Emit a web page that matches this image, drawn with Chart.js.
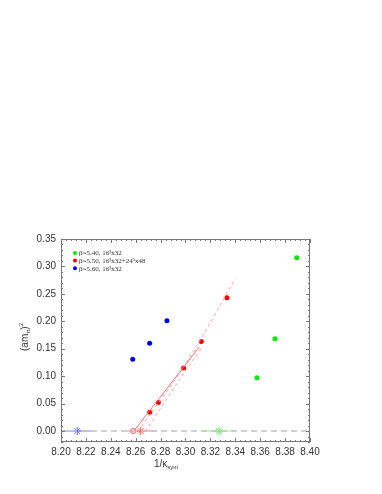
<!DOCTYPE html>
<html>
<head>
<meta charset="utf-8">
<script src="https://cdn.jsdelivr.net/npm/chart.js@4"></script>
<style>
  html, body { margin: 0; padding: 0; background: #fff; }
  #wrap { width: 382px; height: 494px; }
</style>
</head>
<body>
<div id="wrap"><canvas id="myChart" width="382" height="494"></canvas></div>
<script>
// data
const legendLabels = ['β=5.40, 16³x32', 'β=5.50, 16³x32+24³x48', 'β=5.60, 16³x32']
const greenX = [8.3574, 8.3719, 8.3893]
const greenY = [0.097, 0.168, 0.316]
const redX = [8.2712, 8.2782, 8.2985, 8.3127, 8.3333]
const redY = [0.034, 0.052, 0.115, 0.163, 0.243]
const blueX = [8.2576, 8.2712, 8.2851]
const blueY = [0.131, 0.160, 0.201]

// extrapolated zero points and their errors
const zeroBlue = 8.213, zeroBlueErr = [8.201, 8.225]
const zeroRedCircle = 8.258
const zeroRed = 8.264, zeroRedErr = [8.253, 8.277]
const zeroGreen = 8.327, zeroGreenErr = [8.314, 8.340]

// fit lines for beta=5.50
const fitSolidX = [8.2585, 8.311]
const fitSolidY = [0, 0.153]
const fitDashAX = [8.262, 8.300, 8.340]
const fitDashAY = [0, 0.122, 0.277]
const fitDashBX = [8.268, 8.300, 8.3125]
const fitDashBY = [0, 0.110, 0.150]

const xTicks = [8.20, 8.22, 8.24, 8.26, 8.28, 8.30, 8.32, 8.34, 8.36, 8.38, 8.40]
const yTicks = [0.00, 0.05, 0.10, 0.15, 0.20, 0.25, 0.30, 0.35]

const pts = (xs, ys) => xs.map((x, i) => ({ x: x, y: ys[i] }))

const datasets = [
  { data: [{ x: 8.20, y: 0 }, { x: 8.40, y: 0 }], showLine: true, borderColor: '#c4c4c4', borderWidth: 1.5, borderDash: [6, 4], pointRadius: 0 },
  { data: pts(zeroBlueErr, [0, 0]), showLine: true, borderColor: 'rgba(110,110,255,0.55)', borderWidth: 1.5, pointRadius: 0 },
  { data: pts(zeroRedErr, [0, 0]), showLine: true, borderColor: 'rgba(255,110,110,0.55)', borderWidth: 1.5, pointRadius: 0 },
  { data: pts(zeroGreenErr, [0, 0]), showLine: true, borderColor: 'rgba(110,255,110,0.55)', borderWidth: 1.5, pointRadius: 0 },
  { data: pts(fitSolidX, fitSolidY), showLine: true, borderColor: '#ff7070', borderWidth: 1, pointRadius: 0 },
  { data: pts(fitDashAX, fitDashAY), showLine: true, borderColor: '#ffa0a0', borderWidth: 1, borderDash: [3, 3], tension: 0.3, pointRadius: 0 },
  { data: pts(fitDashBX, fitDashBY), showLine: true, borderColor: '#ffa0a0', borderWidth: 1, borderDash: [3, 3], pointRadius: 0 },
  { data: [{ x: zeroBlue, y: 0 }], pointStyle: 'star', pointRadius: 4, borderColor: '#6a6aff', borderWidth: 1, backgroundColor: '#6a6aff' },
  { data: [{ x: zeroRedCircle, y: 0 }], pointStyle: 'circle', pointRadius: 2.5, borderColor: '#ff5050', borderWidth: 1, backgroundColor: '#fff' },
  { data: [{ x: zeroRed, y: 0 }], pointStyle: 'star', pointRadius: 4, borderColor: '#ff6060', borderWidth: 1, backgroundColor: '#ff6060' },
  { data: [{ x: zeroGreen, y: 0 }], pointStyle: 'star', pointRadius: 4, borderColor: '#60ee60', borderWidth: 1, backgroundColor: '#60ee60' },
  { data: pts(greenX, greenY), pointRadius: 2.5, backgroundColor: '#00ee00', borderColor: '#00ee00', borderWidth: 0 },
  { data: pts(redX, redY), pointRadius: 2.5, backgroundColor: '#ff0000', borderColor: '#ff0000', borderWidth: 0 },
  { data: pts(blueX, blueY), pointRadius: 2.5, backgroundColor: '#0000ee', borderColor: '#0000ee', borderWidth: 0 },
]

// inward ticks on all four sides, axis titles and the small legend
const decorations = {
  id: 'decorations',
  afterDraw(chart) {
    const ctx = chart.ctx
    const a = chart.chartArea
    const xs = chart.scales.x, ys = chart.scales.y
    ctx.save()
    ctx.strokeStyle = '#777'
    ctx.lineWidth = 1
    ctx.strokeRect(a.left + 0.5, a.top + 0.5, a.right - a.left - 1, a.bottom - a.top - 1)
    ctx.beginPath()
    for (let i = 0; i <= 50; i++) {
      const v = 8.20 + i * 0.004
      const px = Math.round(xs.getPixelForValue(v)) + 0.5
      const len = i % 5 === 0 ? 4 : 2
      ctx.moveTo(px, a.bottom); ctx.lineTo(px, a.bottom - len)
      ctx.moveTo(px, a.top); ctx.lineTo(px, a.top + len)
    }
    for (let i = 0; i <= 37; i++) {
      const v = -0.02 + i * 0.01
      const py = Math.round(ys.getPixelForValue(v)) + 0.5
      const len = (i - 2) % 5 === 0 ? 4 : 2
      ctx.moveTo(a.left, py); ctx.lineTo(a.left + len, py)
      ctx.moveTo(a.right, py); ctx.lineTo(a.right - len, py)
    }
    ctx.stroke()

    // x title: 1/κ_sym
    ctx.fillStyle = '#333'
    ctx.textBaseline = 'alphabetic'
    ctx.font = '10px "Liberation Sans", Arial, sans-serif'
    ctx.textAlign = 'left'
    const tx = 154, ty = 467
    ctx.fillText('1/κ', tx, ty)
    const w = ctx.measureText('1/κ').width
    ctx.font = '6px "Liberation Sans", Arial, sans-serif'
    ctx.fillText('sym', tx + w, ty + 2)

    // y title: (am_π)^2
    ctx.save()
    ctx.translate(28, 351)
    ctx.rotate(-Math.PI / 2)
    ctx.font = '10px "Liberation Sans", Arial, sans-serif'
    ctx.fillText('(am', 0, 0)
    let off = ctx.measureText('(am').width
    ctx.font = '6px "Liberation Sans", Arial, sans-serif'
    ctx.fillText('π', off, 2)
    off += ctx.measureText('π').width
    ctx.font = '10px "Liberation Sans", Arial, sans-serif'
    ctx.fillText(')', off, 0)
    off += ctx.measureText(')').width
    ctx.font = '6px "Liberation Sans", Arial, sans-serif'
    ctx.fillText('2', off, -5)
    ctx.restore()

    // legend
    const colors = ['#00ee00', '#ff0000', '#0000ee']
    ctx.font = '7px "Liberation Serif", "DejaVu Serif", serif'
    ctx.textBaseline = 'middle'
    legendLabels.forEach((lab, i) => {
      const ly = 253 + i * 7.6
      ctx.fillStyle = colors[i]
      ctx.beginPath()
      ctx.arc(75, ly, 2, 0, Math.PI * 2)
      ctx.fill()
      ctx.fillStyle = '#333'
      ctx.fillText(lab, 79, ly + 0.5)
    })
    ctx.restore()
  }
}

const ctx = document.getElementById('myChart').getContext('2d')
const myChart = new Chart(ctx, {
  type: 'scatter',
  data: { datasets: datasets },
  options: {
    responsive: false,
    animation: false,
    layout: { padding: { top: 239, right: 72, left: 0, bottom: 0 } },
    plugins: { legend: { display: false }, tooltip: { enabled: false } },
    scales: {
      x: {
        type: 'linear', min: 8.20, max: 8.40,
        grid: { display: false, drawTicks: false },
        border: { display: false },
        afterFit(scale) { scale.height = 52 },
        afterBuildTicks(scale) { scale.ticks = xTicks.map(v => ({ value: v })) },
        ticks: {
          padding: 4, color: '#333', maxRotation: 0,
          font: { family: '"Liberation Sans", Arial, sans-serif', size: 10 },
          callback: v => v.toFixed(2)
        }
      },
      y: {
        type: 'linear', min: -0.02, max: 0.35,
        grid: { display: false, drawTicks: false },
        border: { display: false },
        afterFit(scale) { scale.width = 61 },
        afterBuildTicks(scale) { scale.ticks = yTicks.map(v => ({ value: v })) },
        ticks: {
          padding: 5, color: '#333',
          font: { family: '"Liberation Sans", Arial, sans-serif', size: 10 },
          callback: v => v.toFixed(2)
        }
      }
    }
  },
  plugins: [decorations]
})
</script>
</body>
</html>
